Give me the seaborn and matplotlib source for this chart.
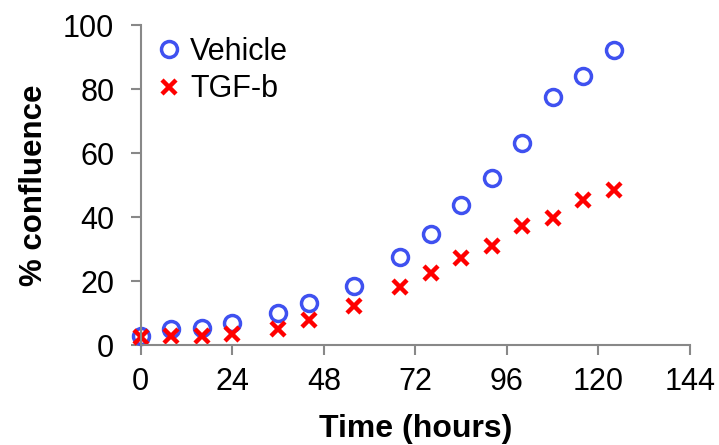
import matplotlib
matplotlib.use("Agg")
import matplotlib.pyplot as plt
import seaborn as sns
import pandas as pd

# Confluence over time for each treatment
hours = [0, 8, 16, 24, 36, 44, 56, 68, 76, 84, 92, 100, 108, 116, 124]
vehicle = [2.8, 4.9, 5.4, 7.0, 9.9, 13.2, 18.4, 27.4, 34.7, 43.8, 52.1, 63.1, 77.4, 84.1, 92.2]
tgfb = [2.6, 2.8, 2.8, 3.3, 5.1, 7.7, 12.3, 18.2, 22.5, 27.2, 30.8, 37.1, 39.7, 45.4, 48.5]

x_ticks = [0, 24, 48, 72, 96, 120, 144]
y_ticks = [0, 20, 40, 60, 80, 100]

sns.set_style("white")
plt.rcParams["font.family"] = ["Liberation Sans", "DejaVu Sans"]
plt.rcParams["text.color"] = "black"
plt.rcParams["axes.labelcolor"] = "black"

df_v = pd.DataFrame({"hours": hours, "confluence": vehicle})
df_t = pd.DataFrame({"hours": hours, "confluence": tgfb})

fig = plt.figure(figsize=(7.19, 4.45), dpi=100)
ax = fig.add_axes([0.1957, 0.2247, 0.764, 0.7191])

blue = "#3F51F0"
red = "#FF0000"
axis_grey = "#888888"

sns.lineplot(data=df_v, x="hours", y="confluence", ax=ax, linestyle="none",
             marker="o", markersize=11.5, markerfacecolor="none",
             markeredgecolor=blue, markeredgewidth=2.5, label="Vehicle",
             clip_on=False)
sns.lineplot(data=df_t, x="hours", y="confluence", ax=ax, linestyle="none",
             marker="x", markersize=10, markeredgecolor=red, color=red,
             markeredgewidth=3.2, label="TGF-b", clip_on=False)

ax.set_xlim(0, 144)
ax.set_ylim(0, 100)
ax.set_xticks(x_ticks)
ax.set_yticks(y_ticks)
ax.set_xticklabels([str(t) for t in x_ticks])
ax.set_yticklabels([str(t) for t in y_ticks])

for side in ("top", "right"):
    ax.spines[side].set_visible(False)
for side in ("left", "bottom"):
    ax.spines[side].set_color(axis_grey)
    ax.spines[side].set_linewidth(1.5)

ax.tick_params(axis="both", which="major", direction="out", length=7,
               width=1.5, color=axis_grey, labelsize=22, labelcolor="black",
               bottom=True, left=True)
ax.tick_params(axis="x", pad=9)
ax.tick_params(axis="y", pad=12)

ax.set_xlabel("Time (hours)", fontsize=23, fontweight="bold")
ax.xaxis.set_label_coords(0.5, -0.217)
ax.set_ylabel("% confluence", fontsize=22.5, fontweight="bold", labelpad=10)

ax.legend(loc="upper left", bbox_to_anchor=(-0.006, 1.03), frameon=False,
          fontsize=22, handlelength=0.65, handletextpad=0.38,
          labelspacing=0.25, borderaxespad=0.3)

fig.savefig("out.png", dpi=100)
